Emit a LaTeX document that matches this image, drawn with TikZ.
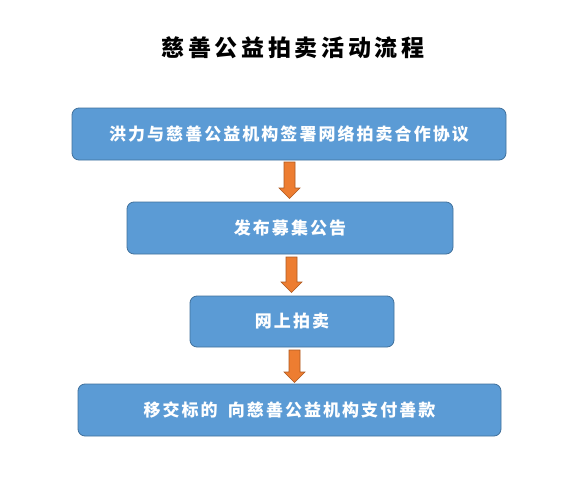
\documentclass[tikz,border=0pt]{standalone}
\usepackage{fontspec}
\newfontfamily\cjk[LetterSpace=12]{Noto Sans CJK SC}
\newfontfamily\cjktitle[LetterSpace=16]{Noto Sans CJK SC}
\usetikzlibrary{calc}
\definecolor{boxfill}{HTML}{5B9BD5}
\definecolor{boxline}{HTML}{41719C}
\definecolor{arrfill}{HTML}{ED7D31}
\definecolor{arrline}{HTML}{AE5A21}
\tikzset{
  x=1pt,y=-1pt,
  stepbox/.style={draw=boxline, line width=0.8pt, fill=boxfill, rounded corners=7pt, text=white,
    inner sep=0pt, minimum height=52pt,
    font={\cjk\bfseries\fontsize{17}{20}\selectfont}},
  downarrow/.style={draw=arrline, line width=0.6pt, fill=arrfill}
}
\newcommand{\blockarrow}[3]{% x center, top y, bottom y
  \path[downarrow] (#1-5.5,#2) -- (#1+5.5,#2) -- (#1+5.5,#3-10.5) -- (#1+10.5,#3-10.5) -- (#1,#3)
    -- (#1-10.5,#3-10.5) -- (#1-5.5,#3-10.5) -- cycle;}
\begin{document}
\begin{tikzpicture}
\useasboundingbox (0,0) rectangle (582,498);
\fill[white] (0,0) rectangle (582,498);
\node[font={\cjktitle\bfseries\fontsize{23}{26}\selectfont}] (title) at (293,48) {慈善公益拍卖活动流程};
\node[stepbox, minimum width=434pt] (b1) at (289,134) {洪力与慈善公益机构签署网络拍卖合作协议};
\node[stepbox, minimum width=326pt] (b2) at (290,228) {发布募集公告};
\node[stepbox, minimum width=204pt, minimum height=51pt] (b3) at (292,321.5) {网上拍卖};
\node[stepbox, minimum width=423pt] (b4) at (289.5,410) {移交标的\hspace{0.6em}向慈善公益机构支付善款};
% block arrows between the steps
\blockarrow{289.5}{162}{198.5}
\blockarrow{291.5}{257}{292.5}
\blockarrow{294.5}{350}{382.5}
\end{tikzpicture}
\end{document}
